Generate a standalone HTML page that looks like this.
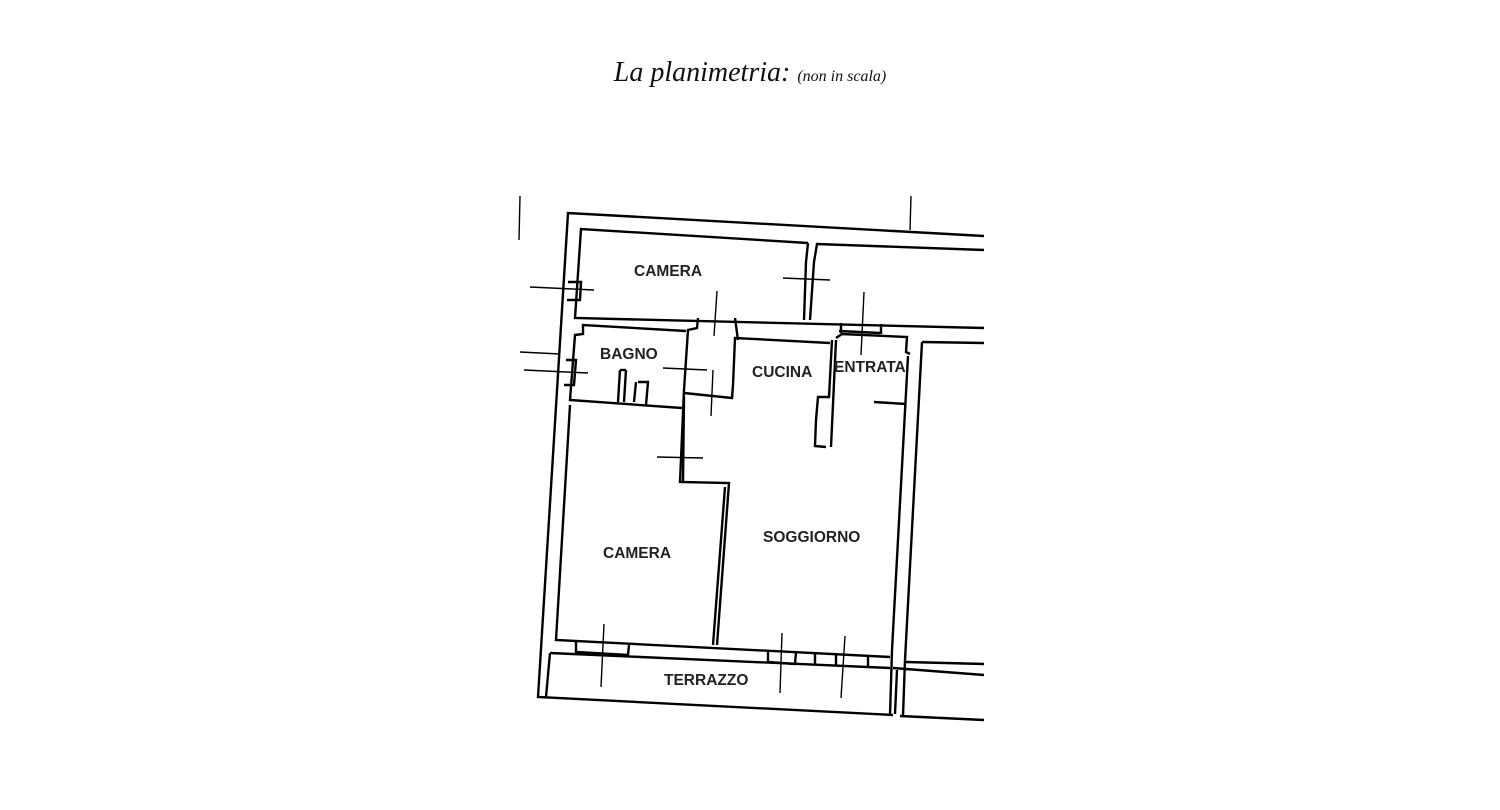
<!DOCTYPE html>
<html><head><meta charset="utf-8"><style>
body{margin:0;background:#fff;width:1500px;height:810px;overflow:hidden}
.t{position:absolute;top:57px;left:0;width:1500px;text-align:center;font-family:"Liberation Serif",serif;font-style:italic;font-size:28px;color:#111}
.t small{font-size:16px}
svg{position:absolute;left:0;top:0}
text{font-family:"Liberation Sans",sans-serif;font-weight:bold;font-size:15.5px;fill:#222}
</style></head><body>
<div class="t">La planimetria: <small>(non in scala)</small></div>
<svg width="1500" height="810" viewBox="0 0 1500 810" fill="none" stroke="#000" stroke-width="2.4" stroke-linejoin="miter">
<polyline points="984,236 568,213 538,697 893,715"/>
<polyline points="900,716 984,720"/>
<polyline points="808,243 581,229 575,318 984,328"/>
<polyline points="984,250 817,244 814,262 810,320"/>
<polyline points="808,243 806,262 804,320"/>
<polyline points="568,282 581,282 580,300 567,300"/>
<polyline points="566,360 576,360 574,385 564,385"/>
<polyline points="686,331 583,325 583,334 575,335 570,400 682,408"/>
<polyline points="570,405 556,640 890,657"/>
<polyline points="550,653 546,697"/>
<polyline points="550,653 890,668"/>
<polyline points="893,668 984,675"/>
<polyline points="906,662 984,664"/>
<polyline points="620,370 618,402"/><polyline points="626,370 624,402"/>
<polyline points="620,370 626,370"/>
<polyline points="638,382 648,382 646,405"/>
<polyline points="636,382 634,402"/>
<polyline points="698,318 697,328 688,330 684,390 680,482 729,483 717,645"/>
<polyline points="684,393 732,398 733,385 735,338 830,343"/>
<polyline points="738,340 735,318"/>
<polyline points="684,397 683,482"/>
<polyline points="725,487 713,645"/>
<polyline points="832,340 829,397 818,397 816,420 815,446 826,447"/>
<polyline points="836,340 831,447"/>
<polyline points="836,338 842,334 907,337 906,352 910,354"/>
<polyline points="841,323 841,333"/><polyline points="881,324 881,334"/><polyline points="839,331 880,333"/>
<polyline points="922,342 984,343"/>
<polyline points="922,342 905,660 903,716"/>
<polyline points="908,356 892,650 890,715"/>
<polyline points="897,670 895,714"/>
<polyline points="874,402 906,404"/>
<polyline points="576,641 576,652 628,655 629,645"/>
<polyline points="768,650 768,662 795,664 796,652"/>
<polyline points="815,653 815,665"/><polyline points="836,654 836,666"/><polyline points="868,656 868,668"/>
<g stroke-width="1.4">
<line x1="520" y1="196" x2="519" y2="240"/>
<line x1="911" y1="196" x2="910" y2="230"/>
<line x1="530" y1="287" x2="594" y2="290"/>
<line x1="520" y1="352" x2="560" y2="354"/>
<line x1="524" y1="370" x2="588" y2="373"/>
<line x1="663" y1="368" x2="707" y2="370"/>
<line x1="717" y1="291" x2="714" y2="336"/>
<line x1="713" y1="370" x2="711" y2="416"/>
<line x1="783" y1="278" x2="830" y2="280"/>
<line x1="864" y1="292" x2="861" y2="355"/>
<line x1="657" y1="457" x2="703" y2="458"/>
<line x1="604" y1="624" x2="601" y2="687"/>
<line x1="782" y1="633" x2="780" y2="693"/>
<line x1="845" y1="636" x2="841" y2="698"/>
</g>
<g stroke="none">
<text x="634" y="276">CAMERA</text>
<text x="600" y="359">BAGNO</text>
<text x="752" y="377">CUCINA</text>
<text x="834" y="372">ENTRATA</text>
<text x="763" y="542">SOGGIORNO</text>
<text x="603" y="558">CAMERA</text>
<text x="664" y="685">TERRAZZO</text>
</g>
</svg>
</body></html>
